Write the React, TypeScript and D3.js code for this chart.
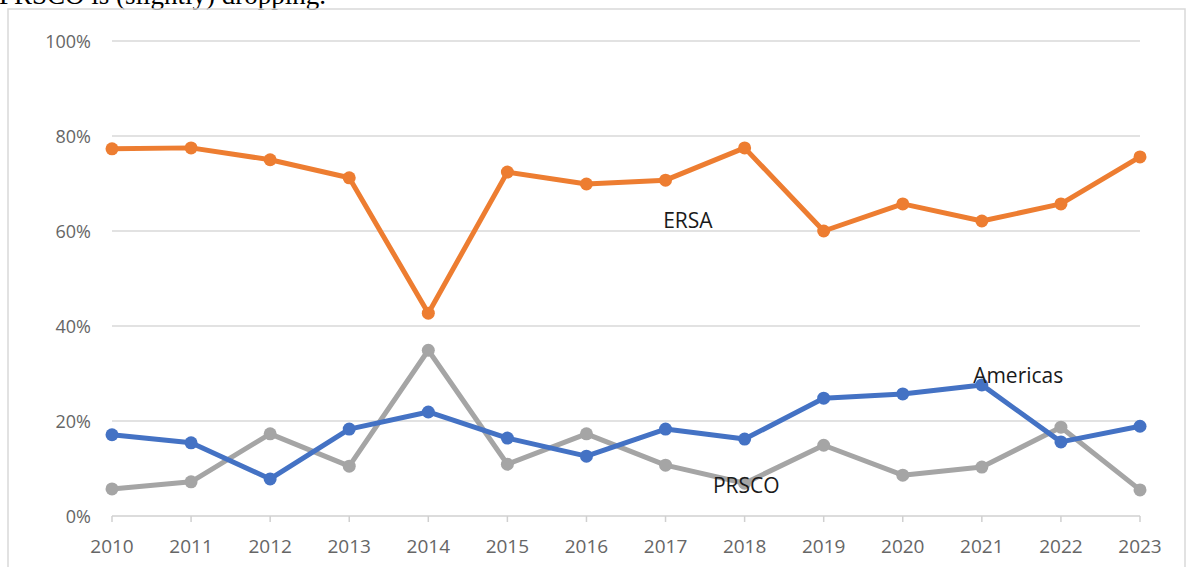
import React from "react";
import * as d3 from "d3";

const years = [2010, 2011, 2012, 2013, 2014, 2015, 2016, 2017, 2018, 2019, 2020, 2021, 2022, 2023];
const ersa = [77.3, 77.5, 75.0, 71.2, 42.7, 72.4, 69.9, 70.7, 77.5, 60.0, 65.7, 62.1, 65.7, 75.6];
const americas = [17.1, 15.4, 7.8, 18.3, 21.9, 16.4, 12.6, 18.3, 16.2, 24.8, 25.7, 27.6, 15.6, 18.9];
const prsco = [5.7, 7.2, 17.3, 10.5, 34.9, 10.9, 17.3, 10.7, 6.9, 14.9, 8.6, 10.3, 18.7, 5.5];
const yTicks = [0, 20, 40, 60, 80, 100];

const series = [
  { name: "PRSCO", values: prsco, color: "#a5a5a5", label: { year: 2017.6, value: 4.8 } },
  { name: "Americas", values: americas, color: "#4472c4", label: { year: 2020.89, value: 28 } },
  { name: "ERSA", values: ersa, color: "#ed7d31", label: { year: 2016.97, value: 60.6 } },
];

const W = 1187;
const H = 567;
const margin = { left: 112, right: 47, top: 41, bottom: 51 };

const App = () => {
  const x = d3.scaleLinear().domain([2010, 2023]).range([margin.left, W - margin.right]);
  const y = d3.scaleLinear().domain([0, 100]).range([H - margin.bottom, margin.top]);
  const line = d3
    .line<number>()
    .x((d, i) => x(years[i]))
    .y((d) => y(d));
  const font = "'Open Sans', 'Liberation Sans', sans-serif";

  return (
    <svg
      width={W}
      height={H}
      style={{ position: "absolute", left: 0, top: 0, background: "#fff" }}
    >
      <text x={-1} y={4} fontFamily="'Liberation Serif', serif" fontSize={27} fill="#000">
        PRSCO is (slightly) dropping.
      </text>
      <rect x={8} y={9} width={1177} height={H + 20} fill="none" stroke="#d9d9d9" strokeWidth={1.5} />

      {yTicks.map((t) => (
        <g key={t}>
          {t > 0 && (
            <line x1={x(2010)} x2={x(2023)} y1={y(t)} y2={y(t)} stroke="#d9d9d9" strokeWidth={1.5} />
          )}
          <text
            x={91}
            y={y(t) + 7}
            textAnchor="end"
            fontFamily={font}
            fontSize={18}
            fill="#666"
          >
            {t}%
          </text>
        </g>
      ))}

      <line x1={x(2010)} x2={x(2023)} y1={y(0)} y2={y(0)} stroke="#d0d0d0" strokeWidth={1.5} />
      {years.map((yr) => (
        <g key={yr}>
          <line x1={x(yr)} x2={x(yr)} y1={y(0)} y2={y(0) + 6} stroke="#d0d0d0" strokeWidth={1.5} />
          <text
            x={x(yr)}
            y={553}
            textAnchor="middle"
            fontFamily={font}
            fontSize={19}
            fill="#666"
          >
            {yr}
          </text>
        </g>
      ))}

      {series.map((s) => (
        <g key={s.name}>
          <path d={line(s.values) || ""} fill="none" stroke={s.color} strokeWidth={5} strokeLinejoin="round" />
          {s.values.map((v, i) => (
            <circle key={i} cx={x(years[i])} cy={y(v)} r={6.5} fill={s.color} />
          ))}
        </g>
      ))}

      {series.map((s) => (
        <text
          key={s.name + "-label"}
          x={x(s.label.year)}
          y={y(s.label.value)}
          fontFamily={font}
          fontSize={21}
          fill="#1a1a1a"
        >
          {s.name}
        </text>
      ))}
    </svg>
  );
};

export default App;
